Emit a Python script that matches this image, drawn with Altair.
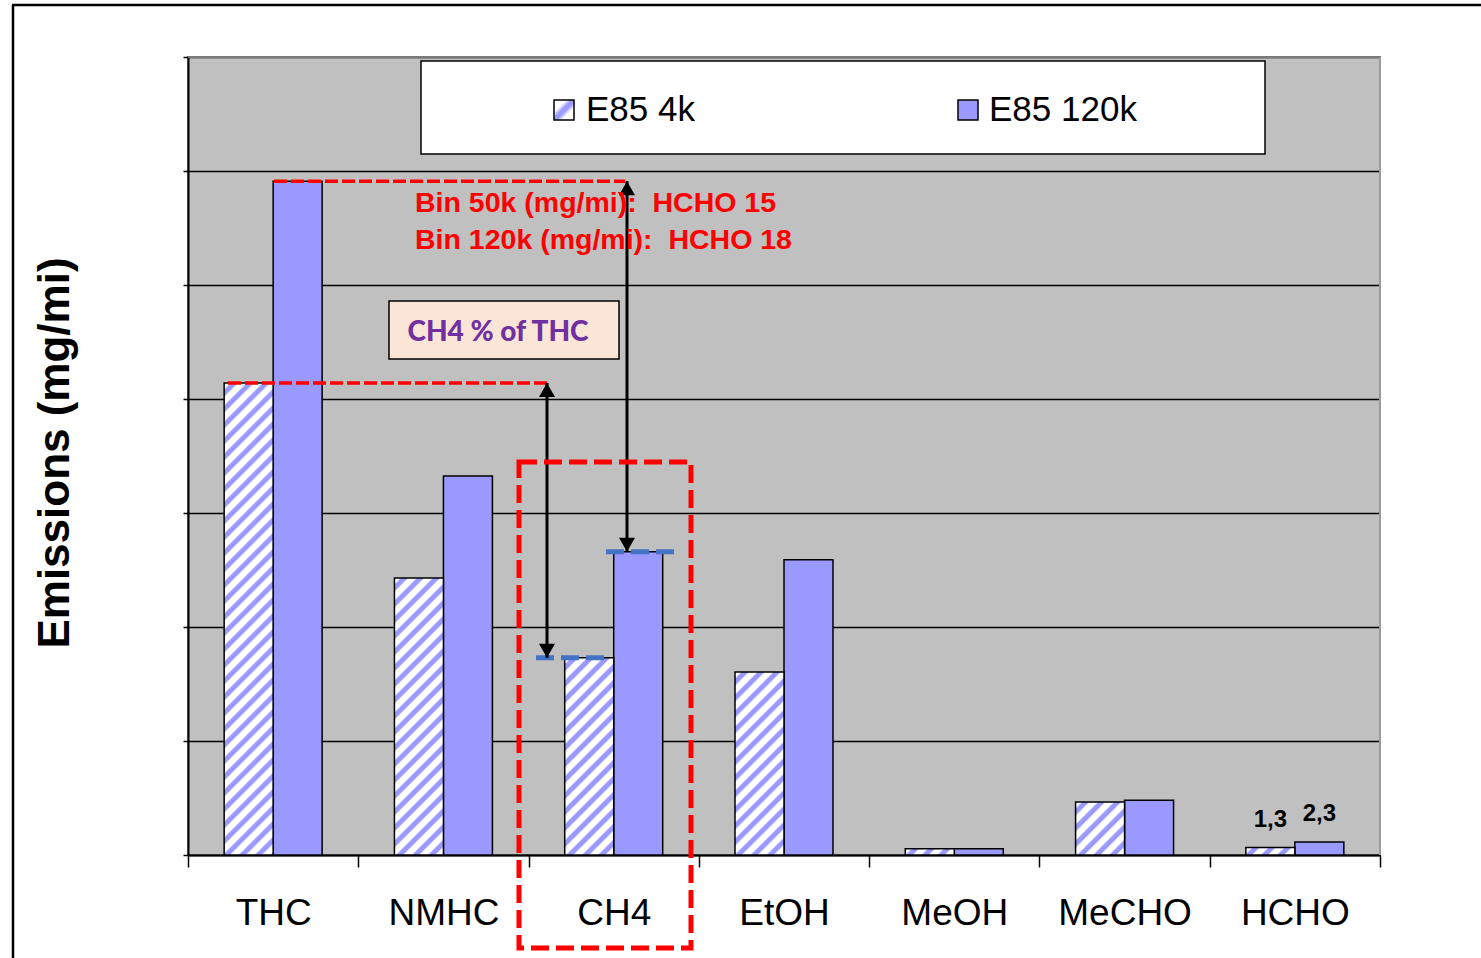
import altair as alt
import pandas as pd

# ---- data -------------------------------------------------------------
categories = ["THC", "NMHC", "CH4", "EtOH", "MeOH", "MeCHO", "HCHO"]
series_names = ["E85 4k", "E85 120k"]
e85_4k = [82.8, 48.6, 34.6, 32.1, 1.1, 9.3, 1.3]
e85_120k = [118.2, 66.5, 53.2, 51.8, 1.1, 9.6, 2.3]
labelled_categories = ["HCHO"]
y_ticks = [0, 20, 40, 60, 80, 100, 120, 140]
bin_notes = ["Bin 50k (mg/mi):\u00a0 HCHO 15", "Bin 120k (mg/mi):\u00a0 HCHO 18"]
box_note = "CH4 % of THC"
y_title = "Emissions (mg/mi)"

# ---- layout -----------------------------------------------------------
W, H = 1192, 798
Y_MAX = y_ticks[-1]
PX_PER_UNIT = H / Y_MAX
BAND = W / len(categories)
OFFSET_PAD = 0.738
BAR_W = BAND / (2 + 2 * OFFSET_PAD)

BLUE = "#9999FF"
WHITE = "#FFFFFF"
FONT = "Liberation Sans"

rows = []
for i, c in enumerate(categories):
    for s, v in zip(series_names, (e85_4k[i], e85_120k[i])):
        rows.append({"cat": c, "series": s, "value": v,
                     "label": f"{v:.1f}".replace(".", ",")})
df = pd.DataFrame(rows)

y_scale = alt.Scale(domain=[0, Y_MAX], nice=False, zero=True)
# the same axis definition is used by every layer so they merge into one
y_axis = alt.Axis(title=None, labels=False, values=y_ticks, tickSize=5,
                  tickColor="black", tickWidth=1.5, domainColor="black",
                  domainWidth=2, grid=True, gridColor="black", gridWidth=1.5)

x_enc = alt.X(
    "cat:N", sort=categories,
    scale=alt.Scale(domain=categories, paddingInner=0, paddingOuter=0),
    axis=alt.Axis(title=None, labelAngle=0, labelFontSize=37, labelFont=FONT,
                  labelColor="black", tickBand="extent", tickSize=12,
                  tickWidth=1.5, tickColor="black", domainColor="black",
                  domainWidth=2, labelPadding=28, grid=False),
)
xo_enc = alt.XOffset(
    "series:N", sort=series_names,
    scale=alt.Scale(domain=series_names, paddingInner=0, paddingOuter=OFFSET_PAD),
)


def yq(field):
    return alt.Y(field, scale=y_scale, axis=y_axis)


base = alt.Chart(df).encode(x=x_enc, xOffset=xo_enc, y=yq("value:Q"))


def stripe_fill(w, h, period=16.0):
    """Diagonal hatching (45 degrees) as a linear gradient in bbox units."""
    span = w + h
    norm = w * w + h * h
    stops = []
    n = int(span / period) + 2
    pattern = [(0.0, WHITE), (0.34, WHITE), (0.48, BLUE), (0.78, BLUE), (0.92, WHITE)]
    last = -1.0
    for k in range(n):
        for frac, col in pattern:
            off = (k * period + frac * period) / span
            if off <= 1.0 and off > last:
                stops.append({"offset": round(off, 6), "color": col})
                last = off
    return {"gradient": "linear", "x1": 0, "y1": 0,
            "x2": w * span / norm, "y2": h * span / norm, "stops": stops}


layers = []

# solid bars
layers.append(
    base.transform_filter(alt.datum.series == "E85 120k")
    .mark_bar(fill=BLUE, stroke="black", strokeWidth=1.5)
)
# hatched bars, one layer per category so each gets its own hatch geometry
for c, v in zip(categories, e85_4k):
    layers.append(
        base.transform_filter(
            (alt.datum.series == "E85 4k") & (alt.datum.cat == c)
        ).mark_bar(stroke="black", strokeWidth=1.5)
        .encode(fill=alt.value(stripe_fill(BAR_W, v * PX_PER_UNIT)))
    )

# value labels on HCHO
layers.append(
    base.transform_filter(alt.FieldOneOfPredicate(field="cat", oneOf=labelled_categories))
    .mark_text(dy=-21, baseline="alphabetic", fontSize=24, fontWeight="bold",
               font=FONT, color="black")
    .encode(text="label:N")
)


def hline(value, x0, x1, color, width, dash):
    d = pd.DataFrame({"v": [value]})
    return alt.Chart(d).mark_rule(color=color, strokeWidth=width, strokeDash=dash).encode(
        y=yq("v:Q"), x=alt.value(x0), x2=alt.value(x1))


def arrow(xp, top, bottom):
    d = pd.DataFrame({"top": [top], "bottom": [bottom]})
    shaft = alt.Chart(d).mark_rule(color="black", strokeWidth=3).encode(
        x=alt.value(xp), y=yq("top:Q"), y2="bottom:Q")
    up = alt.Chart(d).mark_point(shape="triangle-up", filled=True, color="black",
                                 size=256, opacity=1, yOffset=7).encode(
        x=alt.value(xp), y=yq("top:Q"))
    down = alt.Chart(d).mark_point(shape="triangle-down", filled=True, color="black",
                                   size=256, opacity=1, yOffset=-7).encode(
        x=alt.value(xp), y=yq("bottom:Q"))
    return [shaft, up, down]


# red dashed guides from the THC bar tops
layers.append(hline(e85_120k[0], 86, 437, "#FF0000", 3.5, [13, 4]))
layers.append(hline(e85_4k[0], 40, 359, "#FF0000", 3.5, [13, 4]))
# blue dashed marks on the CH4 bar tops
layers.append(hline(e85_4k[2], 348, 416, "#4472C4", 5, [18, 7]))
layers.append(hline(e85_120k[2], 418, 486, "#4472C4", 5, [18, 7]))
# double-headed arrows
layers += arrow(359, e85_4k[0], e85_4k[2])
layers += arrow(439, e85_120k[0], e85_120k[2])

one = pd.DataFrame({"k": [0]})

# red dashed highlight around CH4
layers.append(
    alt.Chart(one).mark_rect(fill="transparent", stroke="#FF0000", strokeWidth=5,
                             strokeDash=[18, 7])
    .encode(x=alt.value(331), x2=alt.value(503), y=alt.value(405), y2=alt.value(891))
)

# bin notes
notes_df = pd.DataFrame({"t": bin_notes, "yb": [155, 192]})
layers.append(
    alt.Chart(notes_df).mark_text(align="left", baseline="alphabetic", fontSize=28.5,
                                  fontWeight="bold", font=FONT, color="#FF0000")
    .encode(text="t:N", x=alt.value(227), y=alt.Y("yb:Q", scale=None))
)

# CH4 share box
layers.append(
    alt.Chart(one).mark_rect(fill="#FBE5D6", stroke="black", strokeWidth=1.5)
    .encode(x=alt.value(201), x2=alt.value(431), y=alt.value(244), y2=alt.value(302))
)
layers.append(
    alt.Chart(pd.DataFrame({"t": [box_note]})).mark_text(
        align="center", baseline="alphabetic", fontSize=28, fontWeight=900,
        font="Lato", color="#7030A0")
    .encode(text="t:N", x=alt.value(310), y=alt.value(284))
)

# legend
layers.append(
    alt.Chart(one).mark_rect(fill="white", stroke="black", strokeWidth=1.5)
    .encode(x=alt.value(233), x2=alt.value(1077), y=alt.value(4), y2=alt.value(97))
)
layers.append(
    alt.Chart(one).mark_rect(stroke="black", strokeWidth=1.5)
    .encode(x=alt.value(366), x2=alt.value(386), y=alt.value(43), y2=alt.value(63),
            fill=alt.value({"gradient": "linear", "x1": 0, "y1": 0, "x2": 1, "y2": 1,
                            "stops": [{"offset": 0, "color": WHITE},
                                      {"offset": 0.3, "color": WHITE},
                                      {"offset": 0.45, "color": BLUE},
                                      {"offset": 0.55, "color": BLUE},
                                      {"offset": 0.7, "color": WHITE},
                                      {"offset": 1, "color": WHITE}]}))
)
layers.append(
    alt.Chart(one).mark_rect(fill=BLUE, stroke="black", strokeWidth=1.5)
    .encode(x=alt.value(770), x2=alt.value(790), y=alt.value(43), y2=alt.value(63))
)
legend_df = pd.DataFrame({"t": series_names, "xp": [398, 801]})
layers.append(
    alt.Chart(legend_df).mark_text(align="left", baseline="alphabetic", fontSize=35,
                                   font=FONT, color="black")
    .encode(text="t:N", x=alt.X("xp:Q", scale=None), y=alt.value(64))
)

# plot border (top and right)
layers.append(
    alt.Chart(one).mark_rule(color="#7A7A7A", strokeWidth=2)
    .encode(x=alt.value(0), x2=alt.value(W), y=alt.value(0))
)
layers.append(
    alt.Chart(one).mark_rule(color="#9A9A9A", strokeWidth=2)
    .encode(x=alt.value(W), y=alt.value(0), y2=alt.value(H))
)

# outer frame
layers.append(
    alt.Chart(one).mark_rule(color="black", strokeWidth=2.5)
    .encode(x=alt.value(-175), y=alt.value(-52), y2=alt.value(H + 110))
)
layers.append(
    alt.Chart(one).mark_rule(color="black", strokeWidth=2.5)
    .encode(x=alt.value(-176), x2=alt.value(W + 110), y=alt.value(-52))
)

# y-axis title
layers.append(
    alt.Chart(pd.DataFrame({"t": [y_title]})).mark_text(
        align="center", baseline="alphabetic", angle=270, fontSize=44,
        fontWeight="bold", font=FONT, color="black")
    .encode(text="t:N", x=alt.value(-119), y=alt.value(396))
)

chart = (
    alt.layer(*layers)
    .properties(width=W, height=H, autosize=alt.AutoSizeParams(type="none"),
                padding={"left": 188, "top": 57, "right": 101, "bottom": 103})
    .configure(background="white")
    .configure_view(fill="#C0C0C0", stroke="#808080", strokeWidth=2)
)

chart.save("out.html", embed_options={"renderer": "svg", "actions": False})
